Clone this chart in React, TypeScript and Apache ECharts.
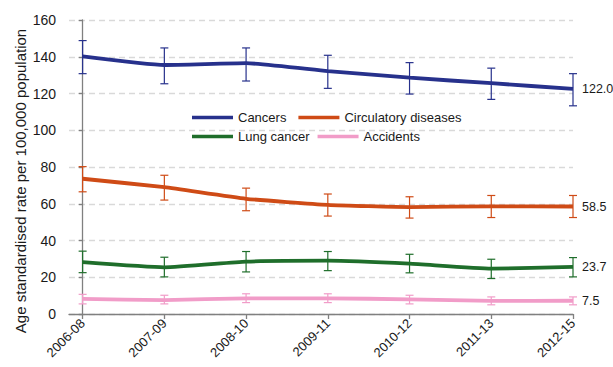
import React, { useEffect, useRef } from "react";
import * as echarts from "echarts";

const categories = ["2006-08", "2007-09", "2008-10", "2009-11", "2010-12", "2011-13", "2012-15"];
const yTicks = [0, 20, 40, 60, 80, 100, 120, 140, 160];

const cancers = [140.2, 135.5, 136.5, 132.2, 128.6, 125.6, 122.5];
const cancersLow = [130.8, 125.3, 126.8, 122.8, 119.7, 116.8, 113.3];
const cancersHigh = [148.8, 144.8, 144.8, 140.8, 136.8, 133.8, 130.8];

const circulatory = [73.6, 69.0, 62.7, 59.4, 58.2, 58.6, 58.5];
const circulatoryLow = [66.5, 62.0, 56.2, 53.3, 52.2, 52.5, 52.5];
const circulatoryHigh = [80.2, 75.5, 68.5, 65.3, 63.8, 64.5, 64.5];

const lung = [28.2, 25.4, 28.5, 29.0, 27.4, 24.7, 25.6];
const lungLow = [22.5, 20.2, 22.9, 23.6, 22.4, 19.3, 20.2];
const lungHigh = [34.2, 30.9, 34.0, 34.0, 32.5, 29.8, 30.7];

const accidents = [8.2, 7.6, 8.5, 8.5, 8.0, 7.1, 7.2];
const accidentsLow = [5.5, 5.5, 6.2, 6.2, 5.5, 5.0, 5.0];
const accidentsHigh = [10.7, 10.2, 11.0, 11.0, 10.2, 9.3, 9.3];

const endLabels = ["122.0", "58.5", "23.7", "7.5"];

const seriesDefs = [
  { name: "Cancers", color: "#27318c", values: cancers, low: cancersLow, high: cancersHigh },
  { name: "Circulatory diseases", color: "#cf4b16", values: circulatory, low: circulatoryLow, high: circulatoryHigh },
  { name: "Lung cancer", color: "#1f6e2b", values: lung, low: lungLow, high: lungHigh },
  { name: "Accidents", color: "#f19cc8", values: accidents, low: accidentsLow, high: accidentsHigh },
];

const FONT = '"Liberation Sans", Arial, sans-serif';

export default function App() {
  const ref = useRef<HTMLDivElement>(null);
  useEffect(() => {
    if (!ref.current) return;
    const chart = echarts.init(ref.current, undefined, { renderer: "svg" });
    const series: any[] = [];
    seriesDefs.forEach((s, si) => {
      series.push({
        type: "custom",
        name: s.name + " CI",
        data: s.values.map((_, i) => [i, s.low[i], s.high[i]]),
        encode: { x: 0, y: [1, 2] },
        z: 3,
        silent: true,
        renderItem: (params: any, api: any) => {
          const x = api.value(0);
          const lo = api.coord([x, api.value(1)]);
          const hi = api.coord([x, api.value(2)]);
          const w = 4;
          const st = { stroke: s.color, lineWidth: 1.2 };
          return {
            type: "group",
            children: [
              { type: "line", shape: { x1: lo[0], y1: lo[1], x2: hi[0], y2: hi[1] }, style: st },
              { type: "line", shape: { x1: lo[0] - w, y1: lo[1], x2: lo[0] + w, y2: lo[1] }, style: st },
              { type: "line", shape: { x1: hi[0] - w, y1: hi[1], x2: hi[0] + w, y2: hi[1] }, style: st },
            ],
          };
        },
      });
      series.push({
        type: "line",
        name: s.name,
        data: s.values.map((v, i) => [i, v]),
        symbol: "none",
        smooth: 0.15,
        z: 4,
        lineStyle: { color: s.color, width: 3.8 },
        itemStyle: { color: s.color },
        endLabel: {
          show: true,
          formatter: () => endLabels[si],
          distance: 9,
          fontFamily: FONT,
          fontSize: 12.5,
          color: "#1a1a1a",
        },
      });
    });

    const legendText = { fontFamily: FONT, fontSize: 13, color: "#1a1a1a" };

    chart.setOption({
      animation: false,
      backgroundColor: "#ffffff",
      grid: { left: 69, right: 40, top: 20, bottom: 53 },
      legend: [
        {
          data: ["Cancers", "Circulatory diseases"],
          left: 187,
          top: 106,
          icon: "rect",
          itemWidth: 41,
          itemHeight: 3.5,
          itemGap: 12,
          textStyle: legendText,
        },
        {
          data: ["Lung cancer", "Accidents"],
          left: 187,
          top: 125,
          icon: "rect",
          itemWidth: 41,
          itemHeight: 3.5,
          itemGap: 8,
          textStyle: legendText,
        },
      ],
      xAxis: {
        type: "value",
        min: -1 / 6,
        max: 6,
        splitLine: { show: false },
        axisLine: { show: true, lineStyle: { color: "#808080", width: 1.3 } },
        axisTick: {
          show: true,
          length: 5,
          inside: false,
          customValues: categories.map((_, i) => i),
          lineStyle: { color: "#808080", width: 1.3 },
        },
        axisLabel: {
          customValues: categories.map((_, i) => i),
          formatter: (v: number) => categories[Math.round(v)] ?? "",
          rotate: 45,
          margin: 7,
          fontFamily: FONT,
          fontSize: 13,
          color: "#1a1a1a",
        },
      },
      yAxis: {
        type: "value",
        min: 0,
        max: 160,
        interval: 20,
        axisLine: { show: true, lineStyle: { color: "#808080", width: 1.3 } },
        axisTick: { show: true, length: 4, lineStyle: { color: "#808080", width: 1.3 } },
        axisLabel: {
          formatter: (v: number) => (yTicks.includes(v) ? String(v) : ""),
          margin: 13,
          fontFamily: FONT,
          fontSize: 14,
          color: "#1a1a1a",
        },
        splitLine: { show: true, lineStyle: { color: "#d9d9d9", type: [6, 4], width: 1.3 } },
      },
      graphic: [
        {
          type: "text",
          x: 20,
          y: 181,
          rotation: Math.PI / 2,
          style: {
            text: "Age standardised rate per 100,000 population",
            fontFamily: FONT,
            fontSize: 15,
            fill: "#1a1a1a",
            align: "center",
            verticalAlign: "middle",
          },
        },
      ],
      series,
    });
    return () => chart.dispose();
  }, []);
  return <div ref={ref} style={{ width: 613, height: 367, position: "absolute", left: 0, top: 0 }} />;
}
